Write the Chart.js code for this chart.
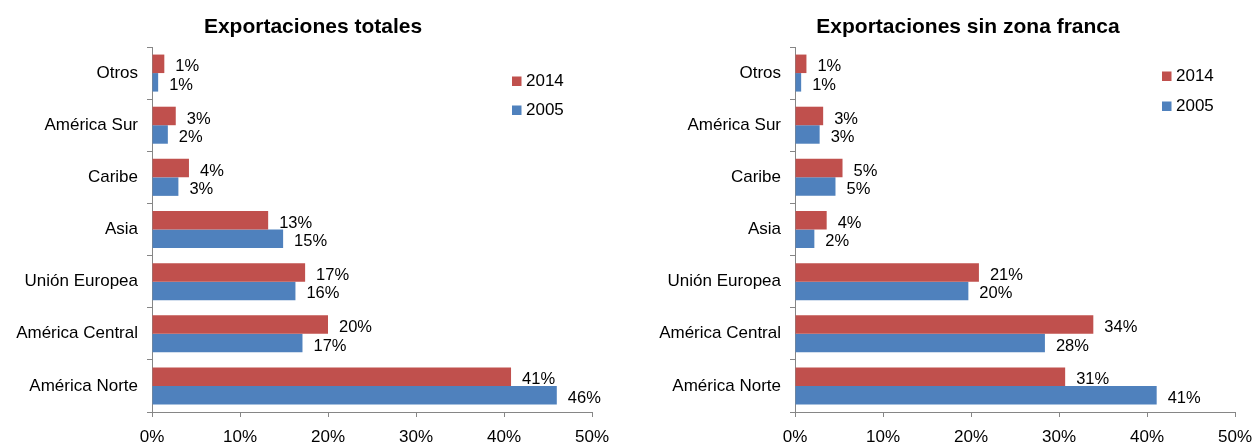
<!DOCTYPE html>
<html>
<head>
<meta charset="utf-8">
<script src="https://cdn.jsdelivr.net/npm/chart.js@4"></script>
<style>
  html, body { margin: 0; padding: 0; background: #fff; overflow: hidden; }
  #wrap { position: relative; width: 1254px; height: 442px; overflow: hidden; }
  .box { position: absolute; top: 0; }
</style>
</head>
<body>
<div id="wrap">
  <div class="box" style="left:0"><canvas id="totalChart" width="628" height="442"></canvas></div>
  <div class="box" style="left:653px"><canvas id="sinZfChart" width="628" height="442"></canvas></div>
</div>
<script>
// Datos (porcentaje del total)
const regiones = ['Otros', 'América Sur', 'Caribe', 'Asia', 'Unión Europea', 'América Central', 'América Norte'];
const xTicks = [0, 10, 20, 30, 40, 50];

const total2014 = [1.4, 2.7, 4.2, 13.2, 17.4, 20.0, 40.8];
const total2005 = [0.7, 1.8, 3.0, 14.9, 16.3, 17.1, 46.0];

const sinZf2014 = [1.3, 3.2, 5.4, 3.6, 20.9, 33.9, 30.7];
const sinZf2005 = [0.7, 2.8, 4.6, 2.2, 19.7, 28.4, 41.1];

const ROJO = '#C0504D';
const AZUL = '#4F81BD';
const EJE = '#868686';
const FUENTE = "'Liberation Sans', Arial, sans-serif";

// Etiquetas de valor al final de cada barra
const etiquetasBarras = {
    id: 'etiquetasBarras',
    afterDatasetsDraw(chart) {
        const ctx = chart.ctx;
        ctx.save();
        ctx.font = '16.5px ' + FUENTE;
        ctx.fillStyle = '#000';
        ctx.textAlign = 'left';
        ctx.textBaseline = 'middle';
        chart.data.datasets.forEach((ds, i) => {
            chart.getDatasetMeta(i).data.forEach((bar, j) => {
                ctx.fillText(Math.round(ds.data[j]) + '%', bar.x + 11, bar.y + 3);
            });
        });
        ctx.restore();
    }
};

// Titulo y leyenda dibujados a mano (posicion como en el original)
const rotulos = {
    id: 'rotulos',
    afterDraw(chart, args, opts) {
        const ctx = chart.ctx;
        ctx.save();
        ctx.fillStyle = '#000';
        ctx.font = 'bold 21px ' + FUENTE;
        ctx.textAlign = 'center';
        ctx.textBaseline = 'middle';
        ctx.fillText(opts.titulo, opts.tituloX, 27);

        const x = chart.chartArea.left + opts.dx;
        ctx.font = '17px ' + FUENTE;
        ctx.textAlign = 'left';
        chart.data.datasets.forEach((ds, i) => {
            const y = opts.ys[i];
            ctx.fillStyle = ds.backgroundColor;
            ctx.fillRect(x, y - 4.5, 9.5, 9.5);
            ctx.fillStyle = '#000';
            ctx.fillText(ds.label, x + 14, y);
        });
        ctx.restore();
    }
};

function crearGrafico(canvas, datos2014, datos2005, anchoEjeY, padDer, rot) {
    new Chart(canvas, {
        type: 'bar',
        data: {
            labels: regiones,
            datasets: [
                { label: '2014', data: datos2014, backgroundColor: ROJO, categoryPercentage: 0.71, barPercentage: 1 },
                { label: '2005', data: datos2005, backgroundColor: AZUL, categoryPercentage: 0.71, barPercentage: 1 }
            ]
        },
        options: {
            indexAxis: 'y',
            responsive: false,
            animation: false,
            layout: { padding: { left: 0, right: padDer, top: 47, bottom: 0 } },
            plugins: {
                legend: { display: false },
                tooltip: { enabled: false },
                title: { display: false },
                rotulos: rot
            },
            scales: {
                x: {
                    min: 0,
                    max: 50,
                    afterBuildTicks: s => { s.ticks = xTicks.map(v => ({ value: v })); },
                    afterFit: s => { s.height = 30; },
                    ticks: {
                        color: '#000',
                        padding: 10,
                        font: { family: FUENTE, size: 17 },
                        maxRotation: 0,
                        callback: v => v + '%'
                    },
                    grid: { drawOnChartArea: false, drawTicks: true, tickLength: 5, color: EJE },
                    border: { display: true, color: EJE, width: 1 }
                },
                y: {
                    afterFit: s => { s.width = anchoEjeY; },
                    ticks: {
                        color: '#000',
                        padding: 9,
                        font: { family: FUENTE, size: 17 }
                    },
                    grid: { offset: true, drawOnChartArea: false, drawTicks: true, tickLength: 5, color: EJE },
                    border: { display: true, color: EJE, width: 1 }
                }
            }
        },
        plugins: [etiquetasBarras, rotulos]
    });
}

crearGrafico(document.getElementById('totalChart'), total2014, total2005, 152, 36,
    { titulo: 'Exportaciones totales', tituloX: 313, dx: 360, ys: [81, 110] });
crearGrafico(document.getElementById('sinZfChart'), sinZf2014, sinZf2005, 142, 46,
    { titulo: 'Exportaciones sin zona franca', tituloX: 315, dx: 367, ys: [76, 106] });
</script>
</body>
</html>
